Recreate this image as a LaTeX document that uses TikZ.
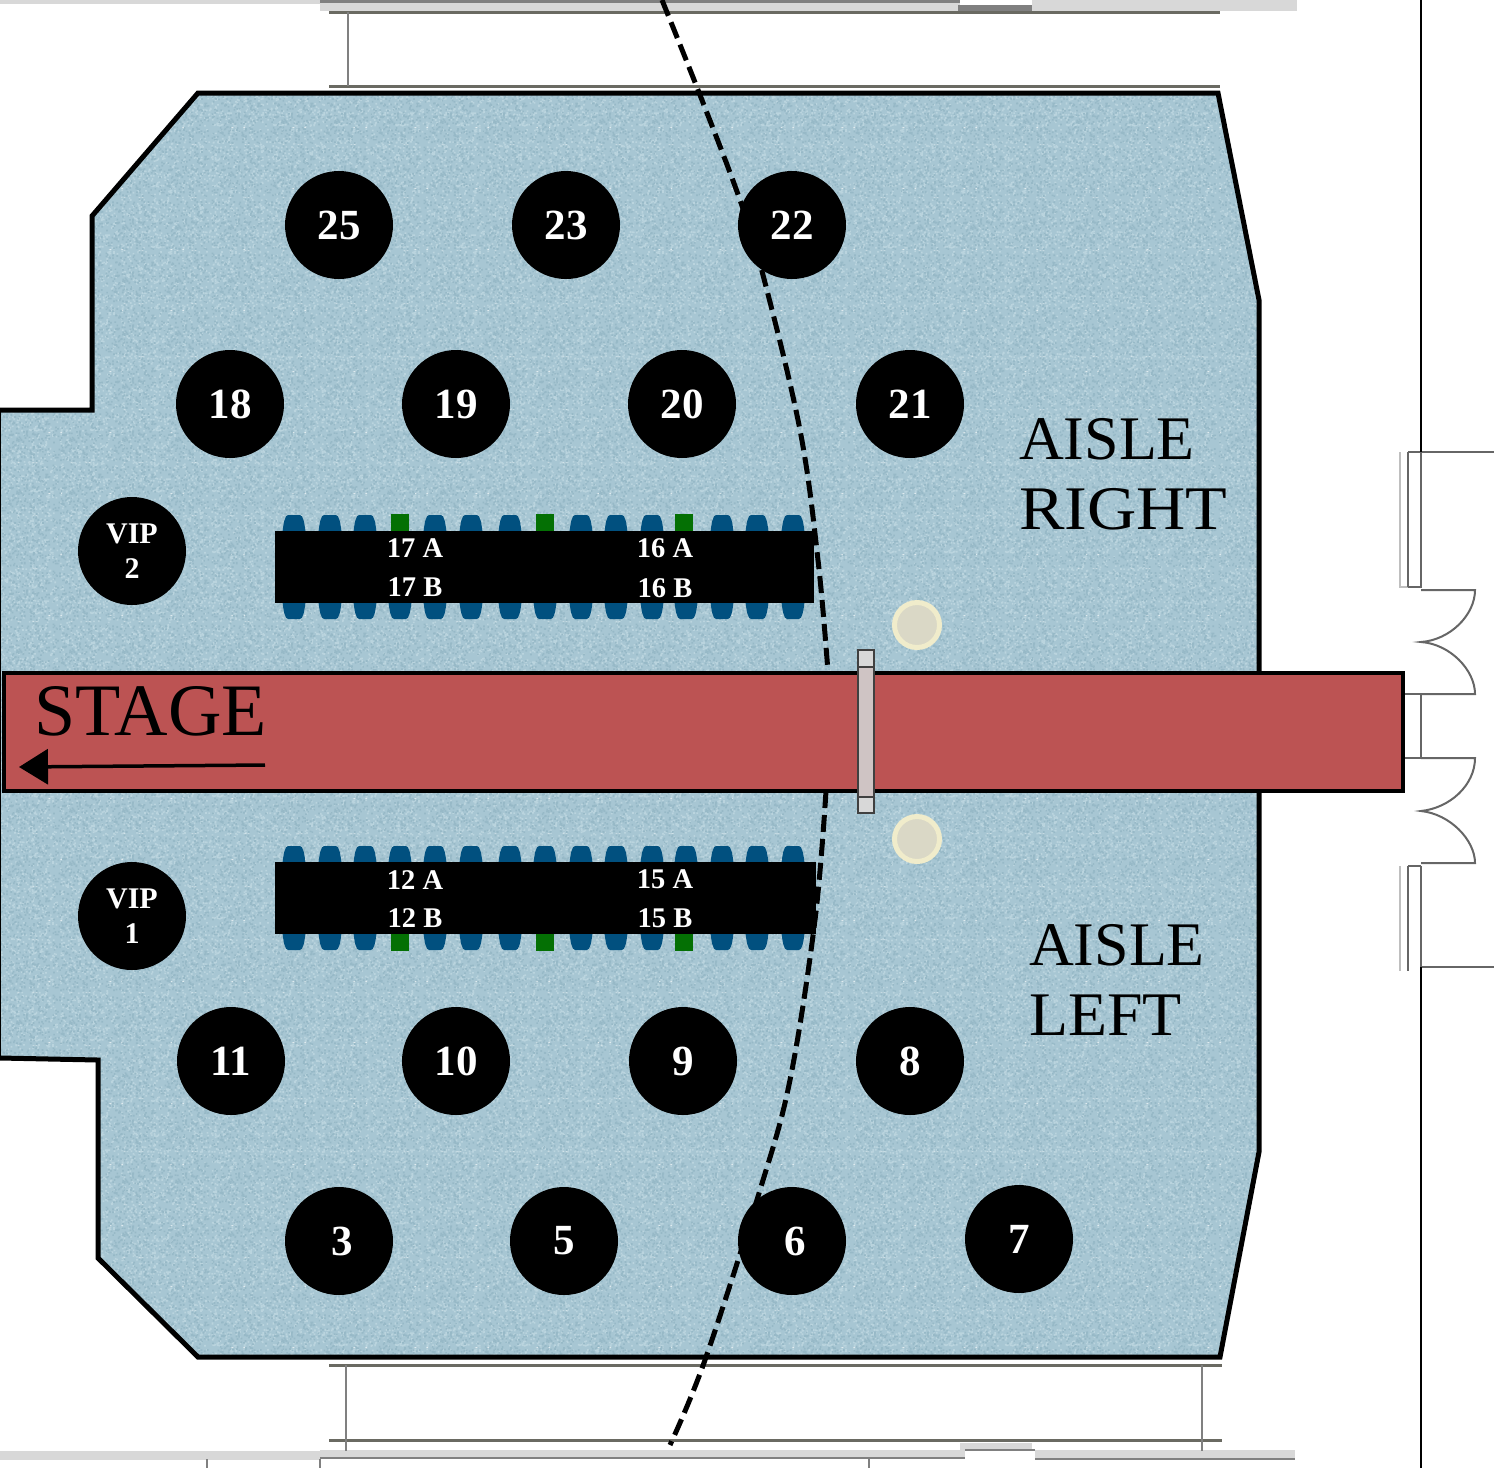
\documentclass[tikz,border=0pt]{standalone}
\usepackage{fontspec}
\setmainfont{Liberation Serif}
\usetikzlibrary{arrows.meta,patterns}
\definecolor{floorblue}{HTML}{A7C6D3}
\definecolor{floorlight}{HTML}{BAD4DE}
\definecolor{floordark}{HTML}{97B9C7}
\definecolor{seatblue}{HTML}{01507F}
\definecolor{seatgreen}{HTML}{047004}
\definecolor{stagered}{HTML}{BC5353}
\definecolor{wallgrey}{HTML}{6A6A62}
\definecolor{striplight}{HTML}{D8D8D8}
\definecolor{creamfill}{HTML}{DAD8C6}
\definecolor{creamedge}{HTML}{F0ECCB}
\definecolor{barfill}{HTML}{D8D8D8}
\definecolor{barover}{HTML}{CFC4C4}
\pgfmathsetseed{11}
\pgfdeclarepatternformonly{specklea}{\pgfqpoint{0pt}{0pt}}{\pgfqpoint{61pt}{61pt}}{\pgfqpoint{61pt}{61pt}}{%
  \foreach \i in {1,...,260}{%
    \pgfmathsetmacro{\sx}{rnd*59}\pgfmathsetmacro{\sy}{rnd*59}%
    \pgfpathrectangle{\pgfqpoint{\sx pt}{\sy pt}}{\pgfqpoint{1.7pt}{1.7pt}}%
  }%
  \pgfusepath{fill}}
\pgfdeclarepatternformonly{speckleb}{\pgfqpoint{0pt}{0pt}}{\pgfqpoint{53pt}{53pt}}{\pgfqpoint{53pt}{53pt}}{%
  \foreach \i in {1,...,200}{%
    \pgfmathsetmacro{\sx}{rnd*51}\pgfmathsetmacro{\sy}{rnd*51}%
    \pgfpathrectangle{\pgfqpoint{\sx pt}{\sy pt}}{\pgfqpoint{1.7pt}{1.7pt}}%
  }%
  \pgfusepath{fill}}
\tikzset{
  tablecircle/.style={circle,fill=black,text=white,minimum size=108pt,inner sep=0pt,align=center,font=\fontsize{43}{45}\selectfont\bfseries},
  vipcircle/.style={tablecircle,font=\fontsize{30}{35}\selectfont\bfseries},
  rowlabel/.style={text=white,inner sep=0pt,font=\fontsize{28.5}{30}\selectfont\bfseries},
  banner/.style={fill=black,inner sep=0pt,anchor=north west},
  aisletext/.style={inner sep=0pt,anchor=north west,align=left,text=black,font=\fontsize{62}{70}\selectfont},
  wallline/.style={draw=wallgrey,line width=3pt},
  thinwall/.style={draw=gray,line width=1.2pt},
  doorline/.style={draw=black!60,line width=2pt},
  aisleedge/.style={draw=black,line width=5pt,dash pattern=on 17pt off 7pt},
  chairup/.pic={\fill (-11.5,0) .. controls (-10.5,-9) and (-9,-17) .. (-6,-17) -- (6,-17) .. controls (9,-17) and (10.5,-9) .. (11.5,0) -- cycle;},
  chairdown/.pic={\fill (-11.5,0) .. controls (-10.5,9) and (-9,17) .. (-6,17) -- (6,17) .. controls (9,17) and (10.5,9) .. (11.5,0) -- cycle;},
  lamp/.style={circle,fill=creamfill,draw=creamedge,line width=5pt,minimum size=45pt,inner sep=0pt},
}
\begin{document}
\begin{tikzpicture}[x=1pt,y=-1pt]
\useasboundingbox (0,0) rectangle (1494,1468);
% building lines, top
\fill[striplight] (0,0) rectangle (320,4);
\fill[striplight] (320,2) rectangle (960,11);
\fill[striplight] (1032,0) rectangle (1297,11);
\fill[gray] (320,0) rectangle (960,3);
\fill[gray] (958,5) rectangle (1032,13);
\draw[wallline] (329,12) -- (1220,12);
\draw[wallline] (329,86) -- (1220,86);
\draw[thinwall] (348,12) -- (348,86);
% building lines, bottom
\fill[striplight] (0,1451) rectangle (320,1460);
\fill[striplight] (320,1450) rectangle (965,1458);
\fill[striplight] (960,1443) rectangle (1032,1450);
\fill[striplight] (1035,1450) rectangle (1295,1459);
\draw[gray,line width=1.5pt] (320,1458) -- (965,1458) (1035,1459) -- (1295,1459) (965,1450) -- (1035,1450);
\draw[wallline] (329,1365) -- (1222,1365);
\draw[wallline] (329,1440) -- (1222,1440);
\draw[thinwall] (346,1365) -- (346,1451) (1202,1365) -- (1202,1451) (320,1459) -- (320,1468) (869,1459) -- (869,1468) (207,1459) -- (207,1468);
% right wall
\draw[draw=lightgray,line width=2pt] (1400,452) -- (1400,587) -- (1408,587) (1400,866) -- (1400,971);
\draw[doorline] (1421,452) -- (1494,452) (1421,967) -- (1494,967);
\draw[doorline] (1408,452) -- (1421,452) (1421,452) -- (1421,588) (1408,452) -- (1408,587) (1408,587) -- (1421,587);
\draw[doorline] (1408,866) -- (1408,971) (1421,866) -- (1421,967) (1408,866) -- (1421,866);
\draw[doorline] (1405,694) -- (1421,694) -- (1421,758) -- (1405,758);
\draw[doorline] (1421,590) -- (1475,590) .. controls (1475,615) and (1450,640) .. (1421,642) .. controls (1450,644) and (1475,670) .. (1475,694) -- (1421,694);
\draw[doorline] (1421,758) -- (1475,758) .. controls (1475,785) and (1450,808) .. (1421,811) .. controls (1450,814) and (1475,840) .. (1475,863) -- (1421,863);
\draw[black,line width=2pt] (1421,0) -- (1421,452) (1421,967) -- (1421,1468);
% floor
\path[fill=floorblue] (198,93) -- (1218,93) -- (1259,300) -- (1259,1152) -- (1220,1357) -- (198,1357) -- (98,1258) -- (98,1060) -- (0,1058) -- (0,410) -- (92,410) -- (92,216) -- cycle;
\path[pattern=specklea,pattern color=floorlight] (198,93) -- (1218,93) -- (1259,300) -- (1259,1152) -- (1220,1357) -- (198,1357) -- (98,1258) -- (98,1060) -- (0,1058) -- (0,410) -- (92,410) -- (92,216) -- cycle;
\path[pattern=speckleb,pattern color=floordark] (198,93) -- (1218,93) -- (1259,300) -- (1259,1152) -- (1220,1357) -- (198,1357) -- (98,1258) -- (98,1060) -- (0,1058) -- (0,410) -- (92,410) -- (92,216) -- cycle;
\draw[black,line width=5pt,line join=miter] (0,1058) -- (98,1060) -- (98,1258) -- (198,1357) -- (1220,1357) -- (1259,1152) -- (1259,300) -- (1218,93) -- (198,93) -- (92,216) -- (92,410) -- (0,410);
\draw[black,line width=1.5pt] (0,410) -- (0,1058);
% curved aisle edge
\draw[aisleedge] plot[smooth,tension=.6] coordinates {(662,0) (700,95) (740,200) (763,275) (800,430) (818,560) (828,672)};
\draw[aisleedge] plot[smooth,tension=.6] coordinates {(826,791) (815,920) (790,1080) (760,1190) (705,1360) (670,1445)};
% chairs
\foreach \x in {294,330,365,435,471,510,581,616,652,722,757,793}{
  \path (\x,532) pic[seatblue] {chairup};
  \path (\x,602) pic[seatblue] {chairdown};
  \path (\x,863) pic[seatblue] {chairup};
  \path (\x,933) pic[seatblue] {chairdown};
}
\foreach \x in {400,545,686}{
  \path (\x,602) pic[seatblue] {chairdown};
  \path (\x,863) pic[seatblue] {chairup};
}
\foreach \x in {400,545,684}{
  \fill[seatgreen] (\x-9,514) rectangle (\x+9,533);
  \fill[seatgreen] (\x-9,932) rectangle (\x+9,951);
}
% head tables
\node[banner,minimum width=539pt,minimum height=72pt] (tabletop) at (275,531) {};
\node[banner,minimum width=541pt,minimum height=72pt] (tablebottom) at (275,862) {};
\node[rowlabel] (t17a) at (415,548) {17 A};
\node[rowlabel] (t17b) at (415,587) {17 B};
\node[rowlabel] (t16a) at (665,548) {16 A};
\node[rowlabel] (t16b) at (665,588) {16 B};
\node[rowlabel] (t12a) at (415,880) {12 A};
\node[rowlabel] (t12b) at (415,918) {12 B};
\node[rowlabel] (t15a) at (665,879) {15 A};
\node[rowlabel] (t15b) at (665,918) {15 B};
% round tables
\node[tablecircle] (c25) at (339,225) {25};
\node[tablecircle] (c23) at (566,225) {23};
\node[tablecircle] (c22) at (792,225) {22};
\node[tablecircle] (c18) at (230,404) {18};
\node[tablecircle] (c19) at (456,404) {19};
\node[tablecircle] (c20) at (682,404) {20};
\node[tablecircle] (c21) at (910,404) {21};
\node[vipcircle] (vip2) at (132,551) {VIP\\2};
\node[vipcircle] (vip1) at (132,916) {VIP\\1};
\node[tablecircle] (c11) at (231,1061) {11};
\node[tablecircle] (c10) at (456,1061) {10};
\node[tablecircle] (c9) at (683,1061) {9};
\node[tablecircle] (c8) at (910,1061) {8};
\node[tablecircle] (c3) at (339,1241) {\hspace*{6pt}3};
\node[tablecircle] (c5) at (564,1241) {5};
\node[tablecircle] (c6) at (792,1241) {\hspace*{6pt}6};
\node[tablecircle] (c7) at (1019,1239) {7};
% lamps
\node[lamp] (lampa) at (917,625) {};
\node[lamp] (lampb) at (917,839) {};
% stage
\node[draw=black,fill=stagered,line width=4pt,outer sep=0pt,minimum width=1399pt,minimum height=118pt,inner sep=0pt,anchor=north west] (stage) at (4,673) {};
\node[inner sep=0pt,anchor=base west,font=\fontsize{74}{74}\selectfont] (stagetext) at (34,735) {STAGE};
\coordinate (arrowstart) at (265,765);
\coordinate (arrowend) at (19,767);
\draw[black,line width=3.5pt,-{Triangle[length=29pt,width=35pt]}] (arrowstart) -- (arrowend);
% bar across the stage
\fill[barfill] (858,650) rectangle (874,813);
\fill[barover] (858,668) rectangle (874,796);
\draw[draw=black!75,line width=1.5pt] (858,650) rectangle (874,813);
\draw[draw=black!75,line width=1.5pt] (858,667) -- (874,667) (858,797) -- (874,797);
% aisle texts
\node[aisletext] (right) at (1019,418) {AISLE\\\scalebox{1.1}[1]{RIGHT}};
\node[aisletext] (left) at (1029,924) {AISLE\\\scalebox{1.03}[1]{LEFT}};
\end{tikzpicture}
\end{document}
